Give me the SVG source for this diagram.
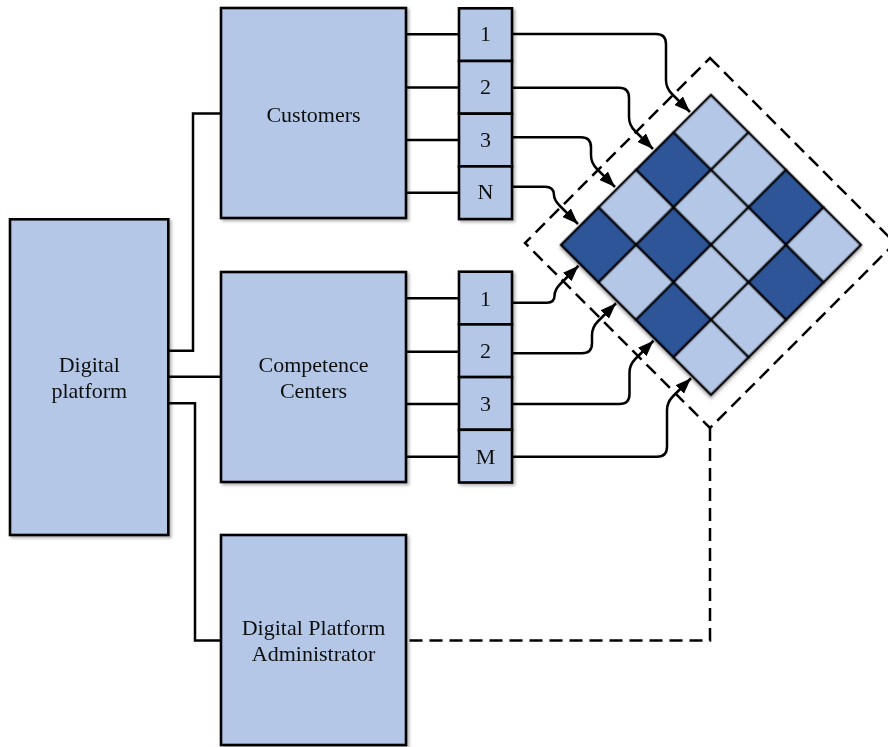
<svg xmlns="http://www.w3.org/2000/svg" width="888" height="747" viewBox="0 0 888 747">
  <defs>
    <filter id="shadow" x="-10%" y="-10%" width="130%" height="130%">
      <feDropShadow dx="2" dy="2" stdDeviation="1.5" flood-color="#000" flood-opacity="0.3"/>
    </filter>
    <marker id="arrow" markerUnits="userSpaceOnUse" markerWidth="17" markerHeight="12" refX="16" refY="6" orient="auto">
      <path d="M0,0 L16,6 L0,12 z" fill="#000"/>
    </marker>
  </defs>
  <style>
    .box { fill: #B4C7E7; stroke: #000; stroke-width: 2.6; }
    .cell { fill: #B4C7E7; stroke: #000; stroke-width: 2.5; }
    .dark { fill: #2F5597; }
    .lbl { font-family: "Liberation Serif", "Times New Roman", serif; font-size: 22px; fill: #111; text-anchor: middle; }
    .wire { fill: none; stroke: #000; stroke-width: 2.5; }
    .arr { fill: none; stroke: #000; stroke-width: 2.5; marker-end: url(#arrow); }
    .dash { fill: none; stroke: #000; stroke-width: 2.5; stroke-dasharray: 13 7; }
  </style>
  <rect width="888" height="747" fill="#fff"/>

  <!-- connectors -->
  <g id="connectors">
    <!-- platform to the three parties -->
    <path class="wire" d="M168,350.7 H193 V113.5 H221"/>
    <path class="wire" d="M168,376.7 H221"/>
    <path class="wire" d="M168,403.3 H195 V640.5 H221"/>
    <!-- parties to their slots -->
    <path class="wire" d="M406,34.3 H459 M406,87.5 H459 M406,140 H459 M406,192.7 H459"/>
    <path class="wire" d="M406,298.3 H459 M406,351.7 H459 M406,404 H459 M406,456.7 H459"/>
    <!-- customer slots to grid -->
    <path class="arr" d="M512,34 H656 Q666,34 666,44 V80 Q666,88 672,94 L690,112"/>
    <path class="arr" d="M512,87.7 H619 Q629,87.7 629,97.7 V117 Q629,125 635,131 L653,149"/>
    <path class="arr" d="M512,137.3 H581 Q591,137.3 591,147.3 V155 Q591,163 597,169 L615,187"/>
    <path class="arr" d="M512,186.7 H545 Q554,186.7 554,195 Q554,200 560,206 L578,224"/>
    <!-- competence slots to grid -->
    <path class="arr" d="M512,302.7 H547 Q554.5,302.7 554.5,296 Q554.5,289.75 560.5,283.75 L578.5,265.75"/>
    <path class="arr" d="M512,353.3 H582 Q592,353.3 592,343.3 V335.25 Q592,327.25 598,321.25 L616,303.25"/>
    <path class="arr" d="M512,404 H619.5 Q629.5,404 629.5,394 V372.75 Q629.5,364.75 635.5,358.75 L653.5,340.75"/>
    <path class="arr" d="M512,456.7 H657 Q667,456.7 667,446.7 V410.25 Q667,402.25 673,396.25 L691,378.25"/>
    <!-- administrator supervision -->
    <path class="dash" d="M710,428 V640.5 H406"/>
  </g>

  <g id="digital-platform" filter="url(#shadow)">
    <rect class="box" x="10" y="219.3" width="158.3" height="315.7"/>
    <text class="lbl" x="89.3" y="371.7">Digital</text>
    <text class="lbl" x="89.3" y="397.7">platform</text>
  </g>

  <g id="customers" filter="url(#shadow)">
    <rect class="box" x="221" y="8" width="185" height="210"/>
    <text class="lbl" x="313.5" y="121.5">Customers</text>
  </g>

  <g id="competence-centers" filter="url(#shadow)">
    <rect class="box" x="221" y="272" width="185" height="210"/>
    <text class="lbl" x="313.5" y="372.3">Competence</text>
    <text class="lbl" x="313.5" y="398.3">Centers</text>
  </g>

  <g id="administrator" filter="url(#shadow)">
    <rect class="box" x="221" y="535" width="185" height="210"/>
    <text class="lbl" x="313.5" y="635">Digital Platform</text>
    <text class="lbl" x="313.5" y="660.7">Administrator</text>
  </g>

  <g id="customer-slots" filter="url(#shadow)">
    <rect class="box" x="459" y="8.3" width="53" height="52.7"/>
    <rect class="box" x="459" y="61" width="53" height="52.7"/>
    <rect class="box" x="459" y="113.7" width="53" height="52.7"/>
    <rect class="box" x="459" y="166.4" width="53" height="52.7"/>
    <text class="lbl" x="485.5" y="41">1</text>
    <text class="lbl" x="485.5" y="94">2</text>
    <text class="lbl" x="485.5" y="146.5">3</text>
    <text class="lbl" x="485.5" y="199.3">N</text>
  </g>

  <g id="competence-slots" filter="url(#shadow)">
    <rect class="box" x="459" y="271.7" width="53" height="52.7"/>
    <rect class="box" x="459" y="324.4" width="53" height="52.7"/>
    <rect class="box" x="459" y="377.1" width="53" height="52.7"/>
    <rect class="box" x="459" y="429.8" width="53" height="52.7"/>
    <text class="lbl" x="485.5" y="305.5">1</text>
    <text class="lbl" x="485.5" y="358.3">2</text>
    <text class="lbl" x="485.5" y="411">3</text>
    <text class="lbl" x="485.5" y="463.5">M</text>
  </g>

  <!-- rotated 4x4 matching grid with its dashed boundary -->
  <g id="grid">
    <path class="dash" d="M710,58 L895,243 L710,428 L525,243 Z"/>
    <g transform="translate(711,95) rotate(45)" filter="url(#shadow)">
      <rect class="cell" x="0" y="0" width="53" height="53"/>
      <rect class="cell dark" x="0" y="53" width="53" height="53"/>
      <rect class="cell" x="0" y="106" width="53" height="53"/>
      <rect class="cell dark" x="0" y="159" width="53" height="53"/>
      <rect class="cell" x="53" y="0" width="53" height="53"/>
      <rect class="cell" x="53" y="53" width="53" height="53"/>
      <rect class="cell dark" x="53" y="106" width="53" height="53"/>
      <rect class="cell" x="53" y="159" width="53" height="53"/>
      <rect class="cell dark" x="106" y="0" width="53" height="53"/>
      <rect class="cell" x="106" y="53" width="53" height="53"/>
      <rect class="cell" x="106" y="106" width="53" height="53"/>
      <rect class="cell dark" x="106" y="159" width="53" height="53"/>
      <rect class="cell" x="159" y="0" width="53" height="53"/>
      <rect class="cell dark" x="159" y="53" width="53" height="53"/>
      <rect class="cell" x="159" y="106" width="53" height="53"/>
      <rect class="cell" x="159" y="159" width="53" height="53"/>
    </g>
  </g>
</svg>
